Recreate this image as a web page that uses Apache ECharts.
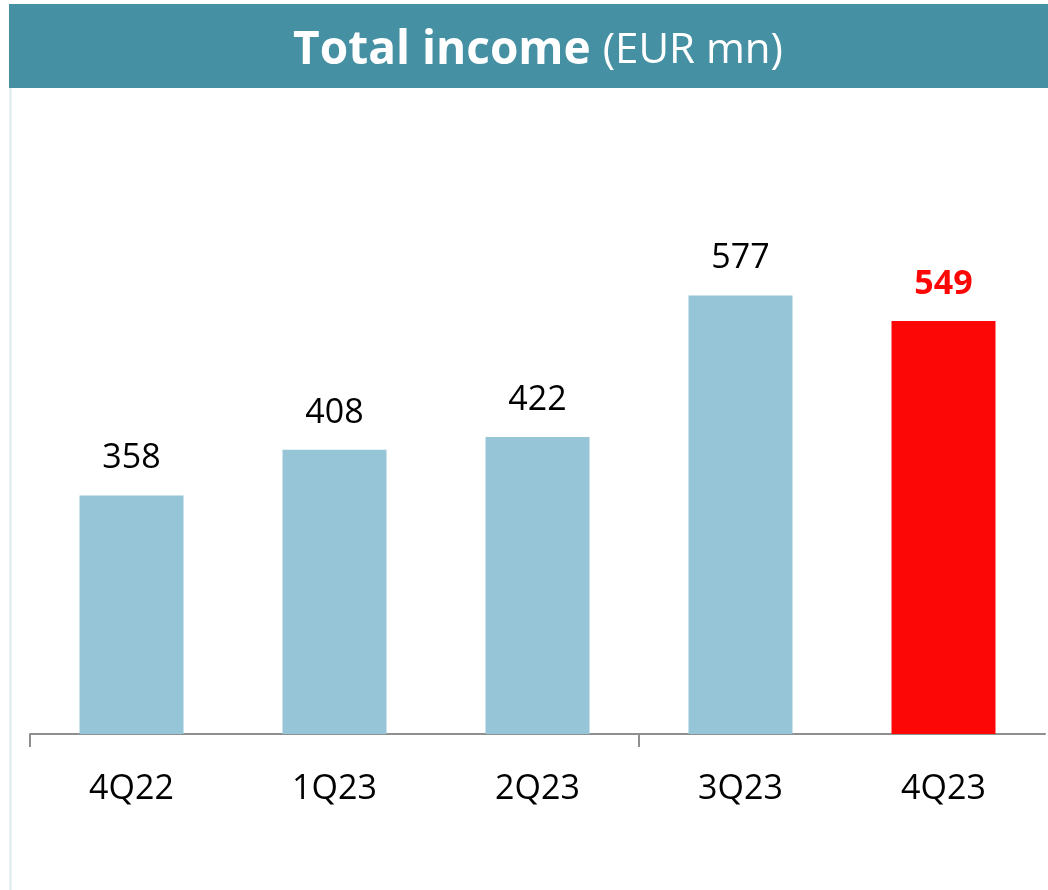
<!DOCTYPE html>
<html>
<head>
<meta charset="utf-8">
<script src="https://cdn.jsdelivr.net/npm/echarts@6/dist/echarts.min.js"></script>
<style>html,body{margin:0;padding:0;background:#fff;}#c{width:1048px;height:890px;}</style>
</head>
<body>
<div id="c"></div>
<script>
const categories = ['4Q22', '1Q23', '2Q23', '3Q23', '4Q23'];
const values = [358, 408, 422, 577, 549];
const highlightIndex = 4;
// boundaries between categories (used only to place the two axis ticks)
const boundaries = ['', '', '', '', '', ''];
const tickedBoundaries = [0, 3];

const chart = echarts.init(document.getElementById('c'), null, {renderer: 'canvas'});
const FONT = '"Open Sans", sans-serif';
chart.setOption({
  animation: false,
  backgroundColor: '#ffffff',
  graphic: [
    {type: 'rect', left: 8, top: 3, shape: {width: 1040, height: 887}, style: {fill: 'none', stroke: '#dce8ee', lineWidth: 2}, z: 0},
    {type: 'rect', left: 9, top: 4, shape: {width: 1039, height: 84}, style: {fill: '#4590a3'}, z: 1}
  ],
  title: {
    text: '{b|Total income}{s| }{r|(EUR mn)}',
    left: 533, top: 46, textAlign: 'center', textVerticalAlign: 'middle',
    textStyle: {
      rich: {
        b: {fontFamily: FONT, fontWeight: 'bold', fontSize: 46, color: '#ffffff'},
        s: {fontFamily: FONT, fontSize: 42, width: 12, color: '#ffffff'},
        r: {fontFamily: FONT, fontWeight: 'normal', fontSize: 42, color: '#ffffff'}
      }
    },
    z: 5
  },
  grid: {left: 30, right: 3, top: 183, bottom: 156},
  xAxis: [{
    type: 'category',
    data: categories,
    axisLine: {lineStyle: {color: '#8f8f8f', width: 2}},
    axisTick: {show: false},
    axisLabel: {fontFamily: FONT, fontSize: 34, color: '#000', margin: 38}
  }, {
    type: 'category',
    position: 'bottom',
    boundaryGap: false,
    data: boundaries,
    axisLine: {show: false},
    axisLabel: {show: false},
    axisTick: {show: true, length: 13, lineStyle: {color: '#8f8f8f', width: 2},
      interval: function (i) { return tickedBoundaries.indexOf(i) >= 0; }}
  }],
  yAxis: {
    type: 'value', min: 97, max: 700,
    show: false, splitLine: {show: false}
  },
  series: [{
    type: 'bar',
    xAxisIndex: 0,
    barWidth: 104,
    data: values.map((v, i) => ({
      value: v,
      itemStyle: {color: i === highlightIndex ? '#fc0606' : '#96c5d8'},
      label: i === highlightIndex ? {color: '#fc0606', fontWeight: 'bold'} : {}
    })),
    label: {show: true, position: 'top', distance: 20, fontFamily: FONT, fontSize: 34, color: '#000'}
  }]
});
</script>
</body>
</html>
